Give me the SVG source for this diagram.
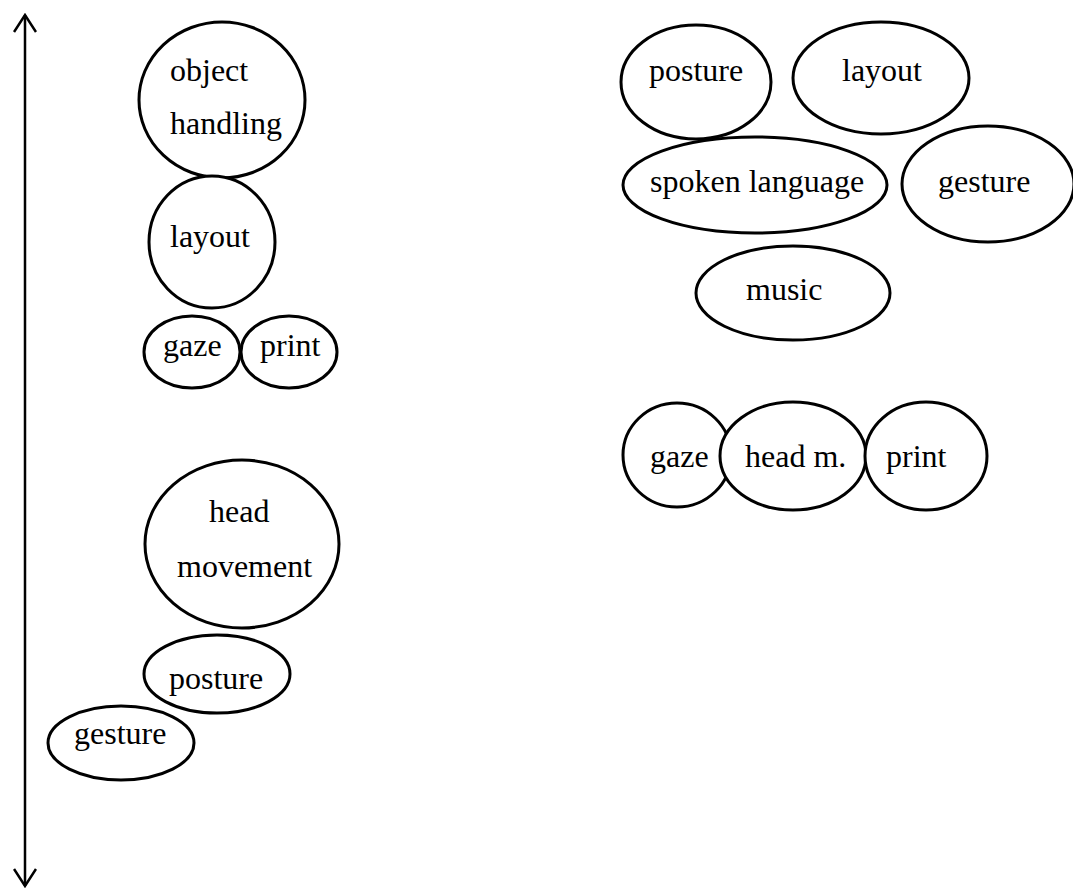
<svg xmlns="http://www.w3.org/2000/svg" width="1073" height="890" viewBox="0 0 1073 890">
<style>
.n{fill:#fff;stroke:#000;stroke-width:3}
.t{font-family:'Liberation Serif','Times New Roman','DejaVu Serif',serif;font-size:32px;fill:#000}
.c{fill:none;stroke:#000;stroke-width:2.5}
</style>
<defs>
<marker id="ah" viewBox="0 0 20 24" refX="18" refY="12" markerWidth="20" markerHeight="24" markerUnits="userSpaceOnUse" orient="auto-start-reverse">
<path d="M1,1 L18,12 L1,23" fill="none" stroke="#000" stroke-width="2.5"/>
</marker>
</defs>
<g id="connectors">
<line class="c" x1="25" y1="15" x2="25" y2="886" marker-start="url(#ah)" marker-end="url(#ah)"/>
</g>
<g id="object-handling"><ellipse class="n" cx="222" cy="100" rx="83" ry="78"/><text class="t" x="170" y="81">object</text><text class="t" x="170" y="134">handling</text></g>
<g id="layout-left"><ellipse class="n" cx="212" cy="242" rx="63" ry="66"/><text class="t" x="170" y="247">layout</text></g>
<g id="gaze-left"><ellipse class="n" cx="192" cy="352" rx="48" ry="36"/><text class="t" x="163" y="356">gaze</text></g>
<g id="print-left"><ellipse class="n" cx="289" cy="352" rx="48" ry="36"/><text class="t" x="260" y="356">print</text></g>
<g id="head-movement"><ellipse class="n" cx="242" cy="544" rx="97" ry="84"/><text class="t" x="209" y="522">head</text><text class="t" x="177" y="577">movement</text></g>
<g id="posture-left"><ellipse class="n" cx="217" cy="674" rx="73" ry="39"/><text class="t" x="169" y="689">posture</text></g>
<g id="gesture-left"><ellipse class="n" cx="121" cy="743" rx="73" ry="37"/><text class="t" x="74" y="744">gesture</text></g>
<g id="posture-right"><ellipse class="n" cx="696" cy="82" rx="75" ry="57"/><text class="t" x="649" y="81">posture</text></g>
<g id="layout-right"><ellipse class="n" cx="881" cy="78" rx="88" ry="56"/><text class="t" x="842" y="81">layout</text></g>
<g id="spoken-language"><ellipse class="n" cx="755" cy="185" rx="132" ry="48"/><text class="t" x="650" y="192">spoken language</text></g>
<g id="gesture-right"><ellipse class="n" cx="988" cy="184" rx="86" ry="58"/><text class="t" x="938" y="192">gesture</text></g>
<g id="music"><ellipse class="n" cx="793" cy="293" rx="97" ry="47"/><text class="t" x="746" y="300">music</text></g>
<g id="gaze-right"><ellipse class="n" cx="677" cy="455" rx="54" ry="52"/><text class="t" x="650" y="467">gaze</text></g>
<g id="head-m"><ellipse class="n" cx="793" cy="456" rx="73" ry="54"/><text class="t" x="745" y="467">head m.</text></g>
<g id="print-right"><ellipse class="n" cx="926" cy="456" rx="61" ry="54"/><text class="t" x="886" y="467">print</text></g>
</svg>
